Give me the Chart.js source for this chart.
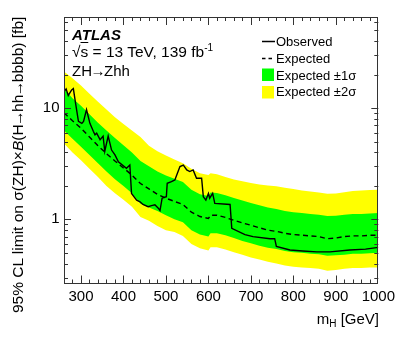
<!DOCTYPE html>
<html>
<head>
<meta charset="utf-8">
<script src="https://cdn.jsdelivr.net/npm/chart.js@4.4.0/dist/chart.umd.min.js"></script>
<style>
body { margin: 0; background: #fff; }
#wrap { position: relative; width: 399px; height: 337px; font-family: "Liberation Sans", Arial, sans-serif; color: #000; }
#c { position: absolute; left: 0; top: 0; }
.t { position: absolute; white-space: nowrap; line-height: 1; }
.ar { margin: 0 -1.5px; }
</style>
</head>
<body>
<div id="wrap">
  <canvas id="c" width="399" height="337"></canvas>
  <div class="t" style="left:72px;top:27px;font-size:15px;font-weight:bold;font-style:italic;">ATLAS</div>
  <div class="t" style="left:72px;top:44px;font-size:15.5px;">√<span style="text-decoration:overline">s</span> = 13 TeV, 139 fb<sup style="font-size:10px;vertical-align:6px;line-height:0">-1</sup></div>
  <div class="t" style="left:72px;top:62.5px;font-size:15px;">ZH<span class="ar">→</span>Zhh</div>
  <div class="t" style="left:276px;top:35.3px;font-size:13px;">Observed</div>
  <div class="t" style="left:276px;top:52px;font-size:13px;">Expected</div>
  <div class="t" style="left:276px;top:68.6px;font-size:13px;">Expected ±1σ</div>
  <div class="t" style="left:276px;top:85.3px;font-size:13px;">Expected ±2σ</div>
  <div class="t" style="right:20px;top:310.7px;font-size:15px;">m<sub style="font-size:10px;vertical-align:-3px;line-height:0">H</sub> [GeV]</div>
  <div class="t" style="left:10.3px;top:313px;width:296px;text-align:right;font-size:15.5px;transform:rotate(-90deg);transform-origin:left top;">95% CL limit on σ(ZH)×<i>B</i>(H<span class="ar">→</span>hh<span class="ar">→</span>bbbb) [fb]</div>
</div>
<script>
// observed limit
const obsMass = [260,265,270,278,282,287,294,302,306,313,321,329,333,337,345,352,356,364,372,380,388,407,415,419,431,439,446,458,466,474,482,486,491,501,503,513,521,533,541,549,556,564,572,584,588,594,600,603,610,615,651,655,686,705,745,756,760,792,822,855,886,933,970,1000];
const obsLimit = [14.1,14.9,13.0,14.6,15.0,11.2,7.6,7.3,7.6,9.7,7.3,6.2,5.75,5.95,5.2,5.6,4.1,5.6,4.2,3.8,3.3,2.88,3.08,1.71,1.49,1.44,1.36,1.30,1.33,1.35,1.26,1.2,1.55,1.6,2.11,2.18,2.26,2.98,3.08,2.78,2.69,2.78,2.34,2.34,1.6,1.49,1.71,1.55,1.71,1.39,1.36,0.83,0.73,0.70,0.67,0.67,0.57,0.53,0.52,0.51,0.51,0.53,0.54,0.56];

// expected limit and bands
const expMass = [260,280,300,320,340,360,380,400,420,440,460,480,500,520,540,560,580,600,605,620,640,660,680,700,720,740,760,780,800,820,840,860,880,900,920,940,960,980,1000];
const expLimit = [9.1,7.7,6.6,5.5,4.6,3.9,3.35,2.9,2.5,2.1,1.88,1.68,1.55,1.45,1.36,1.16,1.06,1.02,1.09,1.09,1.04,0.98,0.93,0.885,0.84,0.80,0.78,0.75,0.73,0.72,0.71,0.70,0.67,0.68,0.70,0.71,0.71,0.72,0.72];
const plus2 = [21.4,18.6,16.0,13.5,11.4,9.7,8.3,7.2,6.3,5.5,4.6,4.1,3.75,3.45,3.2,2.85,2.6,2.5,2.6,2.55,2.4,2.28,2.2,2.12,2.06,2.02,1.98,1.92,1.87,1.82,1.78,1.74,1.70,1.71,1.75,1.8,1.82,1.84,1.85];
const plus1 = [15.0,12.3,10.5,8.8,7.4,6.3,5.4,4.65,4.0,3.35,3.0,2.7,2.48,2.32,2.17,1.85,1.68,1.62,1.74,1.73,1.65,1.56,1.48,1.40,1.34,1.28,1.24,1.19,1.16,1.14,1.12,1.10,1.07,1.08,1.10,1.12,1.12,1.13,1.14];
const minus1 = [6.3,5.3,4.5,3.8,3.2,2.7,2.3,2.0,1.72,1.38,1.28,1.19,1.09,1.0,0.94,0.80,0.73,0.70,0.75,0.75,0.72,0.68,0.64,0.61,0.58,0.555,0.54,0.52,0.505,0.50,0.49,0.485,0.47,0.475,0.48,0.49,0.49,0.495,0.50];
const minus2 = [4.8,4.0,3.4,2.85,2.4,2.0,1.72,1.5,1.3,1.05,0.97,0.87,0.8,0.77,0.71,0.60,0.55,0.525,0.56,0.56,0.535,0.505,0.48,0.455,0.435,0.415,0.40,0.385,0.375,0.37,0.365,0.36,0.345,0.35,0.36,0.365,0.365,0.37,0.37];

const xTicks = [300,400,500,600,700,800,900,1000];
const yTicks = [1,10];

const FONT = '"Liberation Sans", Arial, sans-serif';
const pts = (xs, ys) => xs.map((m, i) => ({x: m, y: ys[i]}));

function line(data, opts) {
    return Object.assign({data: data, pointRadius: 0, tension: 0, borderWidth: 0, fill: false}, opts);
}

// ticks inside the frame, on all four sides, like ROOT does it
const frameTicks = {
    id: "frameTicks",
    afterDatasetsDraw(chart) {
        let {ctx, chartArea: a, scales: {x, y}} = chart;
        ctx.save();
        ctx.strokeStyle = "#333";
        ctx.lineWidth = 1;
        ctx.beginPath();
        for (let m = 280; m < 1000; m += 20) {
            let px = Math.round(x.getPixelForValue(m)) + 0.5;
            let len = m % 100 === 0 ? 8 : 4;
            ctx.moveTo(px, a.bottom); ctx.lineTo(px, a.bottom - len);
            ctx.moveTo(px, a.top); ctx.lineTo(px, a.top + len);
        }
        [0.1, 1, 10].forEach(dec => {
            for (let k = 1; k <= 9; k++) {
                let v = dec * k;
                if (v < y.min || v > y.max) continue;
                let py = Math.round(y.getPixelForValue(v)) + 0.5;
                let len = k === 1 ? 7 : 4;
                ctx.moveTo(a.left, py); ctx.lineTo(a.left + len, py);
                ctx.moveTo(a.right, py); ctx.lineTo(a.right - len, py);
            }
        });
        ctx.stroke();
        ctx.strokeRect(Math.round(a.left) + 0.5, Math.round(a.top) + 0.5, Math.round(a.right - a.left) - 1, Math.round(a.bottom - a.top) - 1);

        // legend symbols
        ctx.lineWidth = 1.5;
        ctx.strokeStyle = "#000";
        ctx.beginPath(); ctx.moveTo(262, 41.5); ctx.lineTo(275, 41.5); ctx.stroke();
        ctx.setLineDash([3.5, 3]);
        ctx.beginPath(); ctx.moveTo(262, 58.5); ctx.lineTo(275, 58.5); ctx.stroke();
        ctx.setLineDash([]);
        ctx.fillStyle = "#00ff00"; ctx.fillRect(262, 68.5, 12, 12.5);
        ctx.fillStyle = "#ffff00"; ctx.fillRect(262, 86, 12, 12.5);
        ctx.restore();
    }
};

new Chart(document.getElementById("c"), {
    type: "line",
    data: {
        datasets: [
            line(pts(obsMass, obsLimit), {borderColor: "#000", borderWidth: 1.4}),
            line(pts(expMass, expLimit), {borderColor: "#000", borderWidth: 1.4, borderDash: [5, 3.5]}),
            line(pts(expMass, plus1), {fill: "+1", backgroundColor: "#00ff00", borderColor: "#00ff00"}),
            line(pts(expMass, minus1), {borderColor: "#00ff00"}),
            line(pts(expMass, plus2), {fill: "+1", backgroundColor: "#ffff00", borderColor: "#ffff00"}),
            line(pts(expMass, minus2), {borderColor: "#ffff00"})
        ]
    },
    options: {
        responsive: false,
        animation: false,
        devicePixelRatio: 1,
        layout: {padding: {top: 17, right: 20.5, left: 0, bottom: 0}},
        plugins: {legend: {display: false}, tooltip: {enabled: false}},
        scales: {
            x: {
                type: "linear", min: 260, max: 1000,
                afterBuildTicks: s => { s.ticks = xTicks.map(v => ({value: v})); },
                afterFit: s => { s.height = 53.5; },
                grid: {display: false, drawTicks: false},
                border: {display: false},
                ticks: {color: "#000", font: {family: FONT, size: 15}, padding: 4, maxRotation: 0, autoSkip: false, callback: v => String(v)}
            },
            y: {
                type: "logarithmic", min: 0.265, max: 66,
                afterBuildTicks: s => { s.ticks = yTicks.map(v => ({value: v})); },
                afterFit: s => { s.width = 64; },
                grid: {display: false, drawTicks: false},
                border: {display: false},
                ticks: {color: "#000", font: {family: FONT, size: 15}, padding: 4.5, autoSkip: false, callback: v => String(v)}
            }
        }
    },
    plugins: [frameTicks]
});
</script>
</body>
</html>
